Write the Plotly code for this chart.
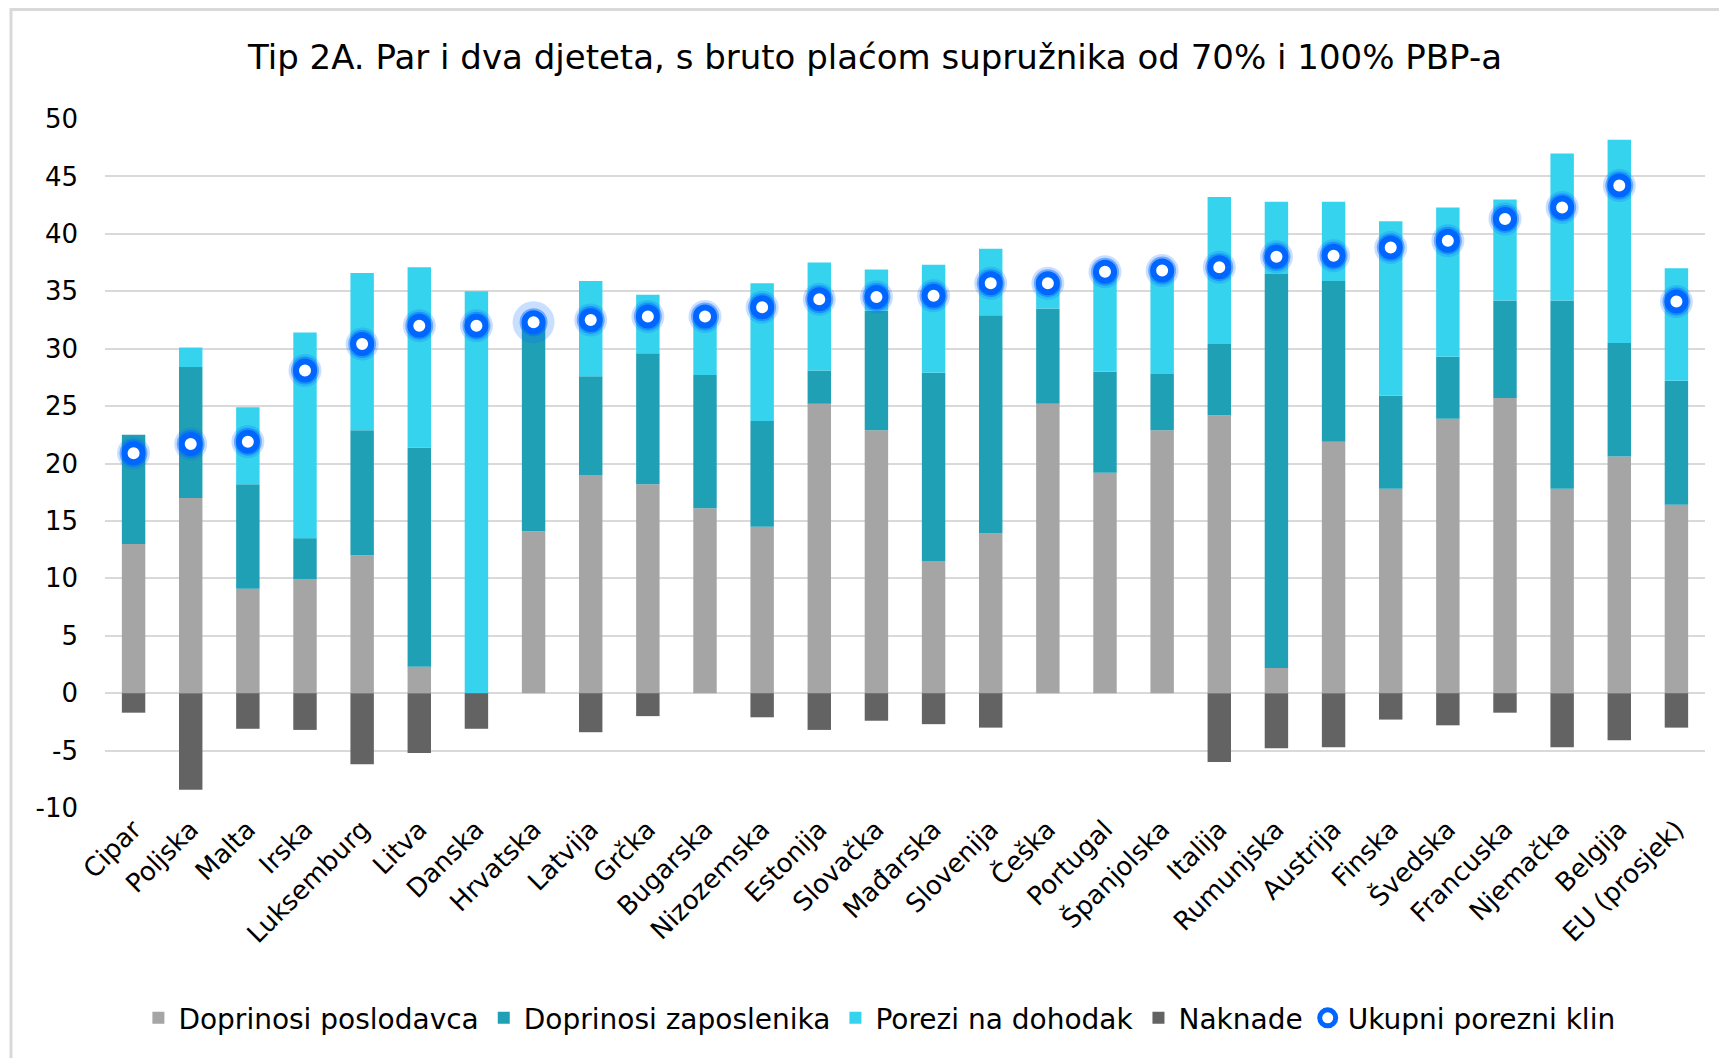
import plotly.graph_objects as go

countries = ["Cipar", "Poljska", "Malta", "Irska", "Luksemburg", "Litva", "Danska", "Hrvatska",
             "Latvija", "Grčka", "Bugarska", "Nizozemska", "Estonija", "Slovačka", "Mađarska",
             "Slovenija", "Češka", "Portugal", "Španjolska", "Italija", "Rumunjska", "Austrija",
             "Finska", "Švedska", "Francuska", "Njemačka", "Belgija", "EU (prosjek)"]

doprinosi_poslodavca = [13.0, 17.0, 9.1, 9.9, 12.0, 2.3, 0.0, 14.1,
                        19.0, 18.2, 16.1, 14.5, 25.2, 22.9, 11.5,
                        13.9, 25.2, 19.2, 22.9, 24.2, 2.2, 21.9,
                        17.8, 23.9, 25.7, 17.8, 20.6, 16.4]
doprinosi_zaposlenika = [9.5, 11.4, 9.1, 3.6, 10.9, 19.1, 0.0, 18.2,
                         8.6, 11.4, 11.6, 9.2, 2.9, 10.4, 16.4,
                         19.0, 8.3, 8.8, 4.9, 6.2, 34.3, 14.0,
                         8.1, 5.4, 8.5, 16.4, 9.9, 10.8]
porezi_na_dohodak = [0.0, 1.7, 6.7, 17.9, 13.7, 15.7, 35.0, 0.0,
                     8.3, 5.1, 5.1, 12.0, 9.4, 3.6, 9.4,
                     5.8, 2.2, 8.7, 9.0, 12.8, 6.3, 6.9,
                     15.2, 13.0, 8.8, 12.8, 17.7, 9.8]
naknade = [-1.7, -8.4, -3.1, -3.2, -6.2, -5.2, -3.1, 0.0,
           -3.4, -2.0, 0.0, -2.1, -3.2, -2.4, -2.7,
           -3.0, 0.0, 0.0, 0.0, -6.0, -4.8, -4.7,
           -2.3, -2.8, -1.7, -4.7, -4.1, -3.0]
ukupni_porezni_klin = [20.9, 21.7, 21.9, 28.1, 30.4, 32.0, 32.0, 32.3,
                       32.5, 32.8, 32.8, 33.6, 34.3, 34.5, 34.6,
                       35.7, 35.7, 36.7, 36.8, 37.1, 38.0, 38.1,
                       38.8, 39.4, 41.3, 42.3, 44.2, 34.1]

y_ticks = [-10, -5, 0, 5, 10, 15, 20, 25, 30, 35, 40, 45, 50]

FONT = "DejaVu Sans, Verdana, sans-serif"

# page body has an 8px default margin; figure is sized to fit inside 1727x1058
W, H = 1719, 1050
ML, MR, MT, MB = 97, 22, 111, 250
PW, PH = W - ML - MR, H - MT - MB

fig = go.Figure()
fig.add_trace(go.Bar(x=countries, y=doprinosi_poslodavca, name="Doprinosi poslodavca",
                     marker=dict(color="#A5A5A5", line=dict(width=0))))
fig.add_trace(go.Bar(x=countries, y=doprinosi_zaposlenika, name="Doprinosi zaposlenika",
                     marker=dict(color="#20A0B5", line=dict(width=0))))
fig.add_trace(go.Bar(x=countries, y=porezi_na_dohodak, name="Porezi na dohodak",
                     marker=dict(color="#36D3EF", line=dict(width=0))))
fig.add_trace(go.Bar(x=countries, y=naknade, name="Naknade",
                     marker=dict(color="#636363", line=dict(width=0))))
# soft glow under the markers
glow_sizes = [33] * len(countries)
glow_sizes[countries.index("Hrvatska")] = 42
fig.add_trace(go.Scatter(x=countries, y=ukupni_porezni_klin, mode="markers", showlegend=False,
                         hoverinfo="skip",
                         marker=dict(symbol="circle", size=glow_sizes, color="rgba(0,102,255,0.30)",
                                     line=dict(width=0))))
fig.add_trace(go.Scatter(x=countries, y=ukupni_porezni_klin, mode="markers", showlegend=False,
                         hoverinfo="skip",
                         marker=dict(symbol="circle", size=28, color="rgba(0,102,255,0.45)",
                                     line=dict(width=0))))
fig.add_trace(go.Scatter(x=countries, y=ukupni_porezni_klin, mode="markers", name="Ukupni porezni klin",
                         marker=dict(symbol="circle", size=18, color="white",
                                     line=dict(color="#0066FF", width=6))))

fig.update_layout(
    width=W, height=H,
    barmode="relative",
    bargap=0.59,
    paper_bgcolor="white",
    plot_bgcolor="white",
    font=dict(family=FONT, size=26, color="#000000"),
    margin=dict(l=ML, r=MR, t=MT, b=MB, autoexpand=False),
    title=dict(text="Tip 2A. Par i dva djeteta, s bruto plaćom supružnika od 70% i 100% PBP-a",
               font=dict(family=FONT, size=34, color="#000000"),
               x=867 / W, xref="container", xanchor="center",
               y=1 - 49 / H, yref="container", yanchor="middle"),
    legend=dict(orientation="h", x=0.484, xanchor="center", y=-0.305, yanchor="middle",
                font=dict(family=FONT, size=28, color="#000000"),
                itemwidth=30, tracegroupgap=0, bgcolor="rgba(0,0,0,0)"),
    xaxis=dict(tickangle=-45, tickfont=dict(family=FONT, size=26, color="#000000"),
               showgrid=False, showline=False, ticks="", categoryorder="array",
               categoryarray=countries, automargin=False,
               range=[-0.5, len(countries) - 0.5], autorange=False),
    yaxis=dict(range=[-10, 50], tickvals=y_ticks, ticktext=[str(v) for v in y_ticks],
               tickfont=dict(family=FONT, size=26, color="#000000"),
               showgrid=True, gridcolor="#D9D9D9", gridwidth=1.5,
               zeroline=True, zerolinecolor="#D9D9D9", zerolinewidth=1.5,
               showline=False, ticks="", ticklabelstandoff=26, automargin=False),
    shapes=[dict(type="rect", xref="paper", yref="paper",
                 x0=(3 - ML) / PW, x1=1.2,
                 y0=-0.6, y1=(H - 1.5 - MB) / PH,
                 line=dict(color="#D9D9D9", width=3), layer="below")],
)

fig.write_html("out.html")
